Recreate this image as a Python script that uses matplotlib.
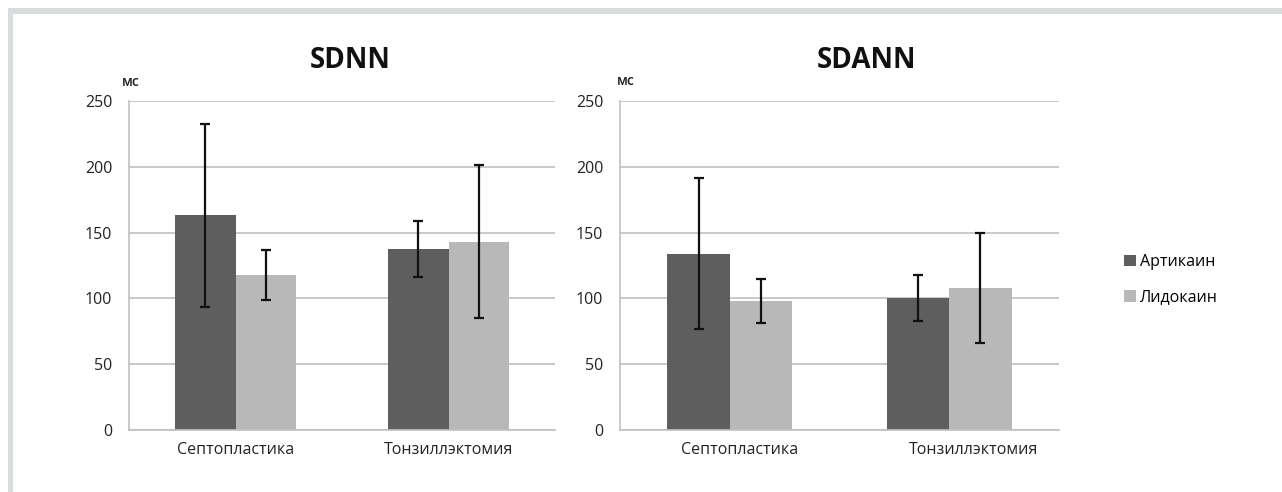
import matplotlib
matplotlib.use("Agg")
import numpy as np
import matplotlib.pyplot as plt
from matplotlib.patches import Rectangle
import matplotlib.transforms as mtransforms

plt.rcParams["font.family"] = ["Open Sans", "DejaVu Sans"]

categories = ["Септопластика", "Тонзиллэктомия"]
series_names = ["Артикаин", "Лидокаин"]

sdnn_art = [163, 137.5]
sdnn_art_err = [69.5, 21.5]
sdnn_lido = [118, 143]
sdnn_lido_err = [19, 58]

sdann_art = [134, 100]
sdann_art_err = [57.5, 17.5]
sdann_lido = [98, 108]
sdann_lido_err = [16.5, 42]

dark = "#5e5e5e"
light = "#b8b8b8"
grid_col = "#c0c0c0"

W, H = 1282, 492
fig = plt.figure(figsize=(W / 100, H / 100), dpi=100)

# gray frame on top and left
fig.patches.append(Rectangle((8 / W, 1 - 14 / H), 1, 6 / H, transform=fig.transFigure,
                             facecolor="#d9dcdc", edgecolor="none"))
fig.patches.append(Rectangle((8 / W, 0), 5 / W, 1 - 8 / H, transform=fig.transFigure,
                             facecolor="#d9dcdc", edgecolor="none"))


def px_axes(x0, x1, y0, y1):
    return fig.add_axes([x0 / W, 1 - y1 / H, (x1 - x0) / W, (y1 - y0) / H])


def draw(ax, art, art_err, lido, lido_err, title, title_x, label_shift):
    x = np.arange(len(categories))
    bw = 0.284
    err_kw = dict(ecolor="#111111", elinewidth=1.6, capsize=3.5, capthick=1.6)
    ax.bar(x - bw / 2, art, bw, color=dark, yerr=art_err, error_kw=err_kw,
           label=series_names[0], zorder=2)
    ax.bar(x + bw / 2, lido, bw, color=light, yerr=lido_err, error_kw=err_kw,
           label=series_names[1], zorder=2)
    ax.set_xlim(-0.5, 1.5)
    ax.set_ylim(0, 250)
    ax.set_yticks(range(0, 251, 50))
    ax.yaxis.grid(True, color=grid_col, lw=1.2, zorder=0)
    ax.set_axisbelow(True)
    for s in ["top", "right"]:
        ax.spines[s].set_visible(False)
    for s in ["left", "bottom"]:
        ax.spines[s].set_color(grid_col)
        ax.spines[s].set_linewidth(1.2)
    ax.set_xticks(x)
    ax.set_xticklabels(categories)
    ax.tick_params(axis="both", length=0, labelsize=11.5, colors="#222222")
    ax.tick_params(axis="y", pad=12)
    ax.tick_params(axis="x", pad=9)
    for lab, dx in zip(ax.get_xticklabels(), label_shift):
        lab.set_transform(lab.get_transform() +
                          mtransforms.ScaledTranslation(dx / 100, 0, fig.dpi_scale_trans))
    fig.text(title_x / W, 1 - 60 / H, title, ha="center", va="center",
             fontsize=20, fontweight="bold", color="#111111")


ax1 = px_axes(129, 555, 101, 430)
draw(ax1, sdnn_art, sdnn_art_err, sdnn_lido, sdnn_lido_err, "SDNN", 350, [0, 0])
fig.text(131 / W, 1 - 82 / H, "мс", ha="center", va="center", fontsize=10,
         fontweight="semibold", color="#222222")

ax2 = px_axes(620, 1059, 101, 430)
draw(ax2, sdann_art, sdann_art_err, sdann_lido, sdann_lido_err, "SDANN", 866, [10, 24])
fig.text(626 / W, 1 - 81 / H, "мс", ha="center", va="center", fontsize=10,
         fontweight="semibold", color="#222222")

handles, labels = ax2.get_legend_handles_labels()
fig.legend(handles, labels, loc="center left", bbox_to_anchor=(1118 / W, 1 - 280 / H),
           frameon=False, fontsize=11.5, handlelength=0.7, handleheight=0.7,
           handletextpad=0.3, labelspacing=1.2, borderaxespad=0)

fig.savefig("out.png", dpi=100)
